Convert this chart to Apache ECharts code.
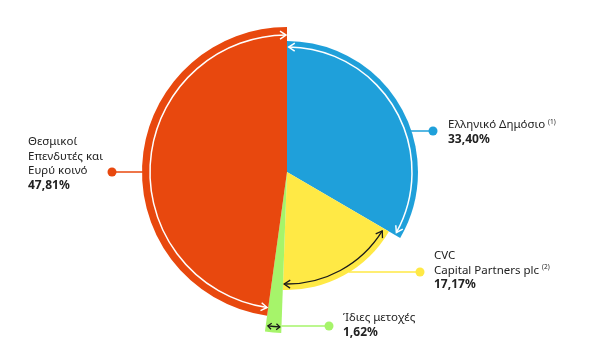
<!DOCTYPE html>
<html><head><meta charset="utf-8">
<script src="https://cdn.jsdelivr.net/npm/echarts@6/dist/echarts.min.js"></script>
<style>html,body{margin:0;padding:0;background:#fff}#c{width:600px;height:349px}</style>
</head><body><div id="c"></div>
<script>
// ---- data ----
const categories = ['Ελληνικό Δημόσιο', 'CVC Capital Partners plc', 'Ίδιες μετοχές', 'Θεσμικοί Επενδυτές και Ευρύ κοινό'];
const values = [33.40, 17.17, 1.62, 47.81];
const labelLines = [['Ελληνικό Δημόσιο'], ['CVC', 'Capital Partners plc'], ['Ίδιες μετοχές'], ['Θεσμικοί', 'Επενδυτές και', 'Ευρύ κοινό']];
const notes = ['(1)', '(2)', '', ''];

// ---- styling / layout ----
const colors = ['#1FA0DA', '#FFE945', '#A6F46A', '#E8480E'];
const lineColors = ['#1FA0DA', '#FFE945', '#A6F46A', '#E8480E'];
const radii = [131, 118, 161, 145];
const cx = 287, cy = 172;
const FONT = '"Noto Sans", sans-serif';

const total = values.reduce((a, b) => a + b, 0);
const bounds = [];
let acc = 0;
values.forEach(v => { const a0 = acc / total * 360; acc += v; bounds.push([a0, acc / total * 360]); });

const series = values.map((_, k) => ({
  type: 'pie', center: [cx, cy], radius: [0, radii[k]], startAngle: 90, clockwise: true,
  silent: true, animation: false, avoidLabelOverlap: false, minAngle: 0,
  label: { show: false }, labelLine: { show: false }, emphasis: { disabled: true },
  itemStyle: { borderWidth: 0 },
  data: values.map((v, i) => ({ name: categories[i], value: v, itemStyle: { color: i === k ? colors[k] : 'rgba(0,0,0,0)' } }))
}));

function pt(r, a) { const t = a * Math.PI / 180; return [cx + r * Math.sin(t), cy - r * Math.cos(t)]; }
function arrowHead(r, a, dirSign, color, L, W, lw) {
  const t = a * Math.PI / 180;
  const p = pt(r, a);
  const T = [Math.cos(t) * dirSign, Math.sin(t) * dirSign];
  const N = [Math.sin(t), -Math.cos(t)];
  return { type: 'polyline', z: 100, silent: true,
    shape: { points: [[p[0] - T[0] * L + N[0] * W, p[1] - T[1] * L + N[1] * W], p, [p[0] - T[0] * L - N[0] * W, p[1] - T[1] * L - N[1] * W]] },
    style: { stroke: color, lineWidth: lw, fill: null } };
}
function arcArrow(r, a0, a1, color, lw, L, W) {
  return [
    { type: 'arc', z: 100, silent: true,
      shape: { cx, cy, r, startAngle: (a0 - 90) * Math.PI / 180, endAngle: (a1 - 90) * Math.PI / 180, clockwise: true },
      style: { stroke: color, lineWidth: lw, fill: null } },
    arrowHead(r, a1, 1, color, L, W, lw),
    arrowHead(r, a0, -1, color, L, W, lw)
  ];
}

const g = [];
// arcs with arrows
g.push(...arcArrow(125, bounds[0][0] + 0.8, bounds[0][1] - 1.3, '#fff', 1.5, 6, 4));
g.push(...arcArrow(112, bounds[1][0] + 1.5, bounds[1][1] - 0.6, '#1a1a1a', 1.3, 6, 4));
g.push(...arcArrow(155, bounds[2][0] + 0.6, bounds[2][1] - 0.8, '#1a1a1a', 1.3, 3.5, 3));
g.push(...arcArrow(137, bounds[3][0] + 0.5, bounds[3][1] - 0.4, '#fff', 1.5, 6, 4));

// label anchors: [dotX, dotY, textX, textTop]
const anchors = [[433, 131, 448, 117.5], [420, 272, 434, 248.5], [329, 326, 343, 310.5], [112, 172, 28, 134.5]];
anchors.forEach((an, k) => {
  const [dx, dy, tx, ty] = an;
  const R = radii[k];
  let ex;
  if (k === 2) ex = cx - (dy - cy) * Math.tan((bounds[2][0] - 180) * Math.PI / 180);
  else { const h = Math.sqrt(Math.max(0, R * R - (dy - cy) * (dy - cy))); ex = dx > cx ? cx + h - 1 : cx - h + 1; }
  g.push({ type: 'line', z: 90, silent: true, shape: { x1: ex, y1: dy, x2: dx, y2: dy }, style: { stroke: lineColors[k], lineWidth: 1.5 } });
  g.push({ type: 'circle', z: 101, silent: true, shape: { cx: dx, cy: dy, r: 4.5 }, style: { fill: colors[k] } });
  const lines = labelLines[k].slice();
  if (notes[k]) lines[lines.length - 1] += ' {sup|' + notes[k] + '}';
  const pct = values[k].toFixed(2).replace('.', ',') + '%';
  g.push({ type: 'text', z: 101, silent: true, x: tx, y: ty,
    style: { text: lines.join('\n') + '\n{b|' + pct + '}', fill: '#222', fontFamily: FONT, fontSize: 11.5,
      lineHeight: 14.5, align: 'left', verticalAlign: 'top',
      rich: { sup: { fontSize: 6.5, fill: '#222', fontFamily: FONT, padding: [0, 0, 6, 0] },
              b: { fontWeight: 'bold', fontSize: 12, fill: '#222', fontFamily: FONT, lineHeight: 14.5 } } } });
});

const chart = echarts.init(document.getElementById('c'), null, { renderer: 'canvas' });
chart.setOption({ animation: false, backgroundColor: '#fff', series, graphic: { elements: g } });
</script></body></html>
